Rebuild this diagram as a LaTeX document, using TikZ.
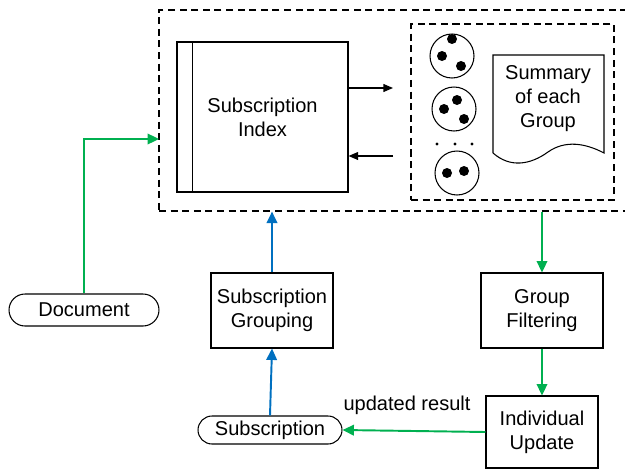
\documentclass[tikz,border=0pt]{standalone}
\usepackage{fontspec}
\setmainfont{Liberation Sans}
\usetikzlibrary{positioning,arrows.meta,shapes.misc}

\definecolor{flowgreen}{RGB}{0,176,80}
\definecolor{flowblue}{RGB}{0,112,192}

\begin{document}
\begin{tikzpicture}[x=0.02cm, y=-0.02cm,
    font=\fontsize{11.4}{13.7}\selectfont,
    box/.style={
      draw, line width=0.6pt, align=center, inner sep=0pt
    },
    term/.style={
      draw, rounded rectangle, line width=0.6pt, inner sep=0pt
    },
    region/.style={draw, line width=0.7pt, dash pattern=on 4pt off 2.6pt, inner sep=0pt},
    grp/.style={draw, circle, line width=0.6pt, minimum size=0.88cm, inner sep=0pt},
    member/.style={fill, radius=0.1cm},
    flow/.style={-{Triangle[length=6.5pt,width=6pt]}, line width=1.1pt, flowgreen},
    build/.style={-{Triangle[length=6.5pt,width=6pt]}, line width=1.1pt, flowblue},
    probe/.style={-{Triangle[length=5.5pt,width=4.5pt]}, line width=0.8pt}
  ]
  \useasboundingbox (0,0) rectangle (625,470);

  % ===== Top: index and group store =====
  \node[region, minimum width=9.4cm, minimum height=4.02cm] (sys) at (394,110.5) {};
  \node[region, minimum width=4.06cm, minimum height=3.52cm] (store) at (512.5,112) {};

  % Subscription index with side bar
  \node[box, minimum width=3.42cm, minimum height=3.0cm] (idx) at (262.5,117)
    {Subscription\\Index};
  \draw[line width=0.6pt] ([xshift=0.32cm]idx.north west) -- ([xshift=0.32cm]idx.south west);

  % Groups of subscriptions
  \node[grp] (g1) at (452,56) {};
  \node[grp] (g2) at (454,109) {};
  \node[grp] (g3) at (457,173) {};
  \fill (452,39) circle[member] (442,56) circle[member] (461,66) circle[member];
  \fill (457,100) circle[member] (444,109) circle[member] (464,119) circle[member];
  \fill (447,173) circle[member] (464,171) circle[member];
  \foreach \dx in {437,455,472}
    \fill (\dx,144) circle[radius=0.032cm];

  % Summary document
  \node[align=center] (summ) at (548,99) {Summary\\of each\\Group};
  \draw[line width=0.6pt] (493,153) -- (493,55) -- (604,55) -- (604,153)
    .. controls (585,143) and (565,140) .. (548,152)
    .. controls (530,165) and (510,168) .. (493,153);

  % Lookups between index and store
  \coordinate (gin) at (393,88);
  \coordinate (gout) at (393,156);
  \draw[probe] (idx.east |- gin) -- (gin);
  \draw[probe] (gout) -- (idx.east |- gout);

  % ===== Bottom: processing steps =====
  \node[term, minimum width=3.0cm, minimum height=0.64cm] (doc) at (84,310) {Document};
  \node[box, minimum width=2.44cm, minimum height=1.5cm] (grpg) at (272,310.5)
    {Subscription\\Grouping};
  \node[box, minimum width=2.44cm, minimum height=1.5cm] (filt) at (542,310.5)
    {Group\\Filtering};
  \node[box, minimum width=2.24cm, minimum height=1.44cm] (upd) at (542,432)
    {Individual\\Update};
  \node[term, minimum width=2.88cm, minimum height=0.56cm] (sub) at (270,430) {Subscription};

  % Connectors
  \coordinate (docin) at (159,139);
  \draw[flow] (doc.north) |- (docin);
  \draw[build] (sub.north) -- (grpg.south);
  \draw[build] (grpg.north) -- (grpg.north |- sys.south);
  \draw[flow] (sys.south -| filt.north) -- (filt.north);
  \draw[flow] (filt.south) -- (upd.north);
  \draw[flow] (upd.west) -- (sub.east)
    node[midway, yshift=0.52cm, xshift=-0.14cm, text=black] {updated result};

\end{tikzpicture}
\end{document}
